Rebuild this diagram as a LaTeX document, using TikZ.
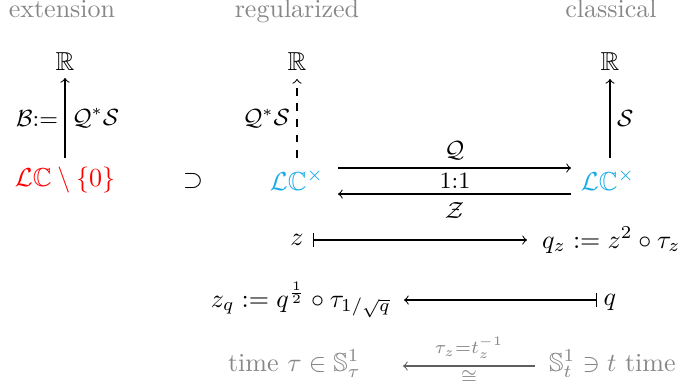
\documentclass[tikz,border=0pt]{standalone}
\usepackage{amsmath,amssymb}
\usetikzlibrary{arrows}
\definecolor{lgray}{RGB}{135,135,135}
\definecolor{lcyan}{RGB}{25,172,232}
\tikzset{
  lbl/.style={inner sep=2.5pt,font=\small},
  head/.style={text=lgray,anchor=base},
  arr/.style={->,line width=0.4pt},
}
\begin{document}
\begin{tikzpicture}[x=0.3846pt,y=-0.3846pt]
\useasboundingbox (0,0) rectangle (680,388);
% column headers
\node[head] (hext) at (62,17) {extension};
\node[head] (hreg) at (297,17) {regularized};
\node[head] (hcla) at (611,17) {classical};
% top reals
\node (R1) at (65,62) {$\mathbb{R}$};
\node (R2) at (297,62) {$\mathbb{R}$};
\node (R3) at (610,62) {$\mathbb{R}$};
% loop spaces
\node[text=red] (E) at (65,180) {$\mathcal{L}\mathbb{C}\setminus\{0\}$};
\node (sup) at (193,181) {$\supset$};
\node[text=lcyan] (L1) at (297,180) {$\mathcal{L}\mathbb{C}^{\times}$};
\node[text=lcyan] (L2) at (608,180) {$\mathcal{L}\mathbb{C}^{\times}$};
% vertical arrows
\coordinate (e0) at (65,158); \coordinate (e1) at (65,78);
\coordinate (m0) at (297,158); \coordinate (m1) at (297,79);
\coordinate (r0) at (610,158); \coordinate (r1) at (610,79);
\draw[arr] (e0) -- node[lbl,left]{$\mathcal{B}{:=}$} node[lbl,right]{$\mathcal{Q}^*\mathcal{S}$} (e1);
\draw[arr,dashed] (m0) -- node[lbl,left]{$\mathcal{Q}^*\mathcal{S}$} (m1);
\draw[arr] (r0) -- node[lbl,right]{$\mathcal{S}$} (r1);
% horizontal pair
\coordinate (qa) at (338,168);
\coordinate (qb) at (571,168);
\coordinate (za) at (571,194);
\coordinate (zb) at (338,194);
\draw[arr] (qa) -- node[lbl,above,inner sep=3pt]{$\mathcal{Q}$} (qb);
\draw[arr] (za) -- node[lbl,below,inner sep=3pt]{$\mathcal{Z}$} (zb);
\node[lbl] (one) at (455,181) {1:1};
% element maps
\node (z) at (297,240) {$z$};
\node[anchor=west] (qz) at (533,240) {$q_z := z^2\circ\tau_z$};
\coordinate (zs) at (313,240); \coordinate (ze) at (527,240);
\draw[|->] (zs) -- (ze);
\node[anchor=east] (zq) at (400,300) {$z_q := q^{\frac12}\circ\tau_{1/\sqrt{q}}$};
\node (q) at (610,302) {$q$};
\coordinate (qs) at (597,300); \coordinate (qe) at (404,300);
\draw[|->] (qs) -- (qe);
% time circles
\node[anchor=east,text=lgray] (tl) at (370,364) {time $\tau\in\mathbb{S}^1_\tau$};
\node[anchor=west,text=lgray] (tr) at (540,364) {$\mathbb{S}^1_t\ni t$ time};
\coordinate (ts) at (535,366); \coordinate (te) at (403,366);
\draw[arr,lgray!70!black] (ts) -- node[lbl,above,text=lgray,font=\scriptsize,inner sep=2.5pt]{$\tau_z{=}t_z^{-1}$} node[lbl,below,text=lgray,font=\scriptsize,inner sep=1.5pt]{$\cong$} (te);
\end{tikzpicture}
\end{document}
